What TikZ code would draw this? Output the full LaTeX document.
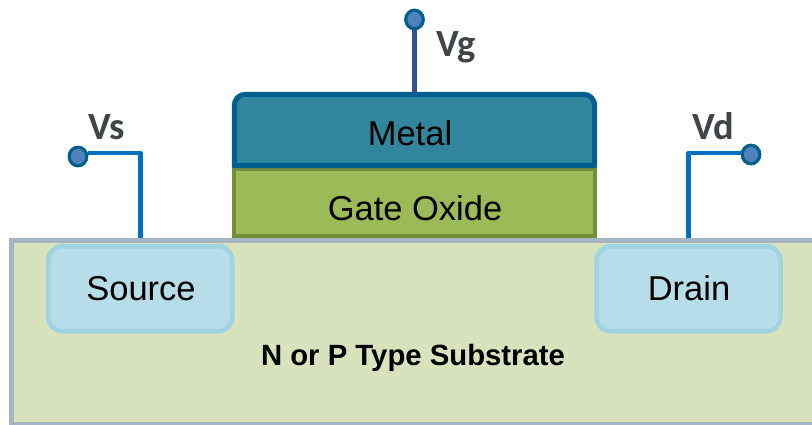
\documentclass[tikz,border=0pt]{standalone}
\usepackage{fontspec}
\setmainfont{Liberation Sans}
\newfontfamily\labelfont{Carlito}
\usetikzlibrary{shapes.geometric,calc}
\definecolor{subfill}{HTML}{D8E3BD}
\definecolor{subline}{HTML}{A5B5C4}
\definecolor{metalfill}{HTML}{31859C}
\definecolor{metalline}{HTML}{005F8C}
\definecolor{oxidefill}{HTML}{9BBB59}
\definecolor{oxideline}{HTML}{728F3A}
\definecolor{wellfill}{HTML}{B7DDE8}
\definecolor{wellline}{HTML}{A0D4E2}
\definecolor{wirecol}{HTML}{0070C0}
\definecolor{gatewire}{HTML}{2F5590}
\definecolor{dotfill}{HTML}{4F81BD}
\definecolor{dotline}{HTML}{005F8C}
\definecolor{labelcol}{HTML}{404548}
\tikzset{
  boxarea/.style={rectangle,inner sep=0pt},
  well/.style={boxarea,draw=wellline,fill=wellfill,line width=4.5pt,rounded corners=14pt,minimum width=184pt,minimum height=85pt},
  dot/.style={ellipse,draw=dotline,fill=dotfill,line width=3pt,inner sep=0pt,minimum width=17.5pt,minimum height=18.5pt},
  wire/.style={draw=wirecol,line width=4.8pt},
  lay/.style={anchor=base,inner sep=0pt,font=\fontsize{34.5}{38}\selectfont,text=black},
  volt/.style={anchor=base,inner sep=0pt,font=\labelfont\bfseries\fontsize{38.5}{42}\selectfont,text=labelcol}
}
\begin{document}
\begin{tikzpicture}[x=1pt,y=-1pt]
\clip (0,0) rectangle (812,425);
% substrate
\node[boxarea,draw=subline,fill=subfill,line width=4.5pt,minimum width=830pt,minimum height=184pt,anchor=north west] (sub) at (9.25,238.25) {};
% gate stack
\node[boxarea,draw=oxideline,fill=oxidefill,line width=4pt,minimum width=361pt,minimum height=67pt] (oxide) at (414.5,203) {};
\node[boxarea,minimum width=360pt,minimum height=71pt] (metal) at (414.5,130) {};
\draw[draw=metalline,fill=metalfill,line width=5pt,line join=round] (metal.south west) [rounded corners=11pt] -- (metal.north west) -- (metal.north east) [sharp corners] -- (metal.south east) -- cycle;
% wells
\node[well] (source) at (140.25,288.75) {};
\node[well] (drain) at (688.5,288.75) {};
% terminals
\node[dot] (vg) at (414.5,19.5) {};
\node[dot] (vs) at (78,156.5) {};
\node[dot] (vd) at (751,154.5) {};
\coordinate (vsbend) at (vs.20);
\coordinate (vdbend) at (vd.172);
\draw[wire,line join=round] (vsbend) -| (source.north |- sub.north);
\draw[wire,line join=round] (vdbend) -| (drain.north |- sub.north);
\draw[draw=gatewire,line width=5.5pt] (vg) -- (vg |- metal.north);
\node[dot] at (vs) {};
\node[dot] at (vd) {};
\node[dot] at (vg) {};
% texts
\node[lay] (tmetal) at (410,146) {Metal};
\node[lay] (toxide) at (415,221) {Gate Oxide};
\node[lay] (tsource) at (141,300) {Source};
\node[lay] (tdrain) at (689,300) {Drain};
\node[anchor=base,inner sep=0pt,font=\bfseries\fontsize{29.3}{32}\selectfont] (tsub) at (413,365) {N or P Type Substrate};
\node[volt] (lvg) at (456,57) {Vg};
\node[volt] (lvs) at (106.5,140) {Vs};
\node[volt] (lvd) at (713,140) {Vd};
\end{tikzpicture}
\end{document}
